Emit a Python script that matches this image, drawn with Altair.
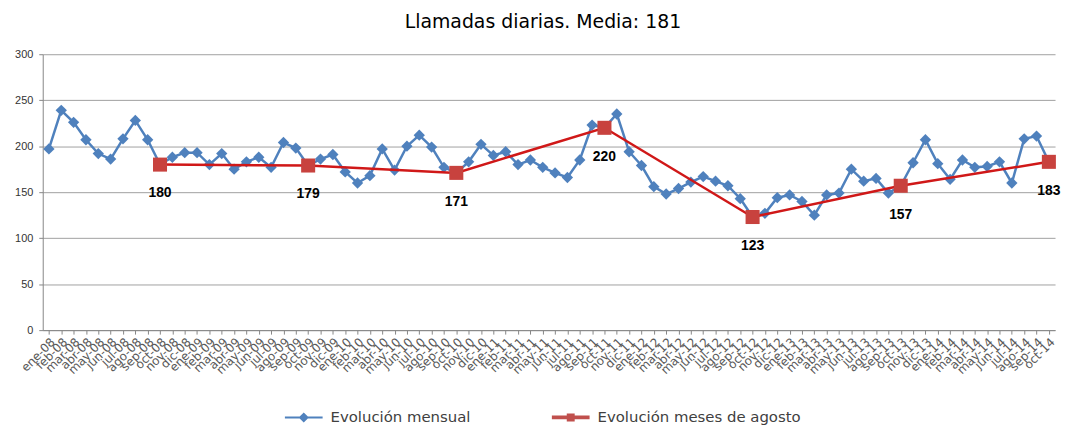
import altair as alt
import pandas as pd

meses = ["ene", "feb", "mar", "abr", "may", "jun", "jul", "ago", "sep", "oct", "nov", "dic"]
anios = ["08", "09", "10", "11", "12", "13", "14"]
etiquetas = [f"{m}-{a}" for a in anios for m in meses][:82]

mensual = [
    197, 239, 226, 207, 192, 186, 208, 228, 207, 180, 188, 193,
    193, 180, 192, 175, 183, 188, 177, 204, 198, 179, 186, 191,
    172, 160, 168, 197, 174, 200, 212, 199, 177, 171, 183, 202,
    190, 194, 180, 185, 177, 171, 166, 185, 223, 220, 235, 194,
    179, 156, 148, 154, 161, 167, 162, 157, 143, 123, 127, 144,
    147, 140, 125, 147, 149, 175, 162, 165, 149, 157, 182, 207,
    181, 164, 185, 177, 178, 183, 160, 208, 211, 183,
]

agosto_mes = ["oct-08", "oct-09", "oct-10", "oct-11", "oct-12", "oct-13", "oct-14"]
agosto_val = [180, 179, 171, 220, 123, 157, 183]

series = ["Evolución mensual", "Evolución meses de agosto"]
colores = ["#4F81BD", "#C0504D"]
simbolos = [
    "M-1,-0.055H1V0.055H-1Z M0,-0.27L0.27,0L0,0.27L-0.27,0Z",
    "M-1,-0.1H1V0.1H-1Z M-0.21,-0.21H0.21V0.21H-0.21Z",
]

df = pd.DataFrame({"mes": etiquetas, "valor": mensual})
dfa = pd.DataFrame({"mes": agosto_mes, "valor": agosto_val})
dfl = pd.DataFrame({"serie": series})

x = alt.X(
    "mes:N",
    sort=etiquetas,
    scale=alt.Scale(type="point", padding=0.5, domain=etiquetas),
    axis=alt.Axis(
        title=None, labelAngle=-45, labelOverlap=False, labelFont="DejaVu Sans",
        labelFontSize=12, labelColor="#595959", tickColor="#868686", tickSize=4,
        domainColor="#868686", labelPadding=2,
    ),
)
y = alt.Y(
    "valor:Q",
    scale=alt.Scale(domain=[0, 300]),
    axis=alt.Axis(
        title=None, values=[0, 50, 100, 150, 200, 250, 300], grid=True,
        gridColor="#a0a0a0", gridWidth=1, labelFont="Liberation Sans", labelFontSize=11,
        labelColor="#333333", tickColor="#868686", tickSize=4, labelPadding=6,
        domainColor="#868686",
    ),
)

blue_line = alt.Chart(df).mark_line(color="#4F81BD", strokeWidth=2.5).encode(x=x, y=y)
blue_pts = alt.Chart(df).mark_point(
    shape="diamond", filled=True, size=130, color="#4F81BD", opacity=1
).encode(x=x, y=y)
red_line = alt.Chart(dfa).mark_line(color="#D01818", strokeWidth=2.5).encode(x=x, y=y)
red_pts = alt.Chart(dfa).mark_point(
    shape="square", filled=True, size=200, color="#C8423E", opacity=1
).encode(x=x, y=y)
labels = alt.Chart(dfa).mark_text(
    dy=29, fontWeight="bold", fontSize=14, font="Liberation Sans", color="black"
).encode(x=x, y=y, text="valor:Q")

leg = dict(
    title=None, orient="none", legendX=244, legendY=347, direction="horizontal",
    labelFont="DejaVu Sans", labelFontSize=15, labelColor="#404040", symbolSize=1444,
    labelOffset=8, columnPadding=81, symbolStrokeWidth=0, padding=0, symbolOpacity=1,
    labelLimit=400,
)
legend_layer = alt.Chart(dfl).transform_filter("datum.serie == 'ninguna'").mark_point(
    filled=True, size=1444, opacity=1
).encode(
    color=alt.Color("serie:N", scale=alt.Scale(domain=series, range=colores), legend=alt.Legend(**leg)),
    shape=alt.Shape("serie:N", scale=alt.Scale(domain=series, range=simbolos), legend=alt.Legend(**leg)),
)

chart = alt.layer(blue_line, blue_pts, red_line, red_pts, labels, legend_layer).properties(
    width=1020,
    height=278,
    autosize=alt.AutoSizeParams(type="none"),
    padding={"left": 35, "top": 45, "right": 6, "bottom": 95},
    background="white",
    title=alt.Title(
        "Llamadas diarias. Media: 181", font="DejaVu Sans", fontSize=19,
        fontWeight="normal", color="black", offset=16, dx=-6, anchor="middle",
    ),
).configure_view(stroke=None)

chart.save("out.html", embed_options={"renderer": "svg", "actions": False})
